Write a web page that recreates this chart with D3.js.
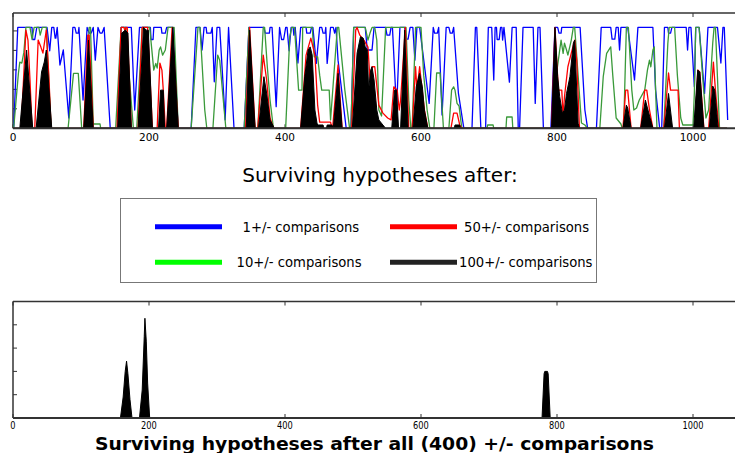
<!DOCTYPE html>
<html><head><meta charset="utf-8">
<script src="https://cdn.jsdelivr.net/npm/d3@7"></script>
<style>body{margin:0;background:#fff}svg{display:block}</style>
</head><body><svg id="c" width="735" height="453"></svg>
<script>
const xTicks=[0,200,400,600,800,1000];
const topYTicks=[1,2,3,4,5];
const botYTicks=[1,2,3,4];
const legendLabels=["1+/- comparisons","10+/- comparisons","50+/- comparisons","100+/- comparisons"];
const legendColors=["#0000ff","#00ff00","#ff0000","#222222"];
const titleTop="Surviving hypotheses after:";
const titleBottom="Surviving hypotheses after all (400) +/- comparisons";

// [hypothesis index, surviving count]
const blue=[[1,0],[7,5.18],[28,5.18],[29,4.56],[32,4.56],[35,5.18],[50,5.18],[54,3.98],[57,5.18],[60,5.18],[62,4.63],[63,4.63],[65,5.18],[69,3.25],[74,4.02],[82,0.53],[88,5.18],[91,5.18],[93,4.89],[96,4.89],[97,5.18],[103,1.45],[109,5.18],[112,4.89],[115,4.89],[118,5.18],[121,3.5],[125,5.18],[128,4.89],[131,4.89],[134,5.18],[143,0],[154,0],[159,5.18],[174,5.18],[179,0.94],[186,5.18],[202,5.18],[203,4.56],[206,4.56],[207,5.18],[218,5.18],[219,4.89],[224,4.89],[226,5.18],[235,5.18],[243,0],[262,0],[269,5.18],[275,5.18],[278,4.02],[281,5.18],[284,5.18],[285,4.89],[291,4.89],[293,5.18],[296,2.39],[300,5.18],[304,5.18],[312,0.43],[317,5.18],[325,0],[340,0],[347,5.18],[369,5.18],[371,4.89],[377,4.89],[378,5.18],[381,5.18],[387,1.11],[392,5.18],[395,4.56],[398,4.56],[401,5.18],[403,5.18],[406,3.98],[409,5.18],[412,5.18],[413,4.78],[415,5.18],[419,3.35],[423,5.18],[431,5.18],[432,4.89],[437,4.89],[439,5.18],[441,5.18],[446,3.33],[451,5.18],[454,5.18],[456,4.89],[459,4.89],[460,5.18],[462,3.33],[467,5.18],[471,5.18],[473,4.89],[475,5.18],[478,3.5],[490,0],[497,0],[501,5.18],[518,5.18],[521,4.02],[528,4.02],[531,5.18],[548,5.18],[550,4.78],[554,4.78],[556,5.18],[558,5.18],[564,0.94],[569,5.18],[576,5.18],[578,4.58],[581,4.58],[584,5.18],[588,5.18],[591,3.5],[594,5.18],[598,5.18],[612,1.28],[618,5.18],[620,4.89],[624,4.89],[626,5.18],[631,0.68],[637,5.18],[641,5.18],[643,4.89],[646,4.89],[648,5.18],[655,1.81],[663,0],[675,0],[680,5.18],[682,5.18],[688,0],[695,0],[699,5.18],[704,5.18],[707,2.48],[709,5.18],[711,5.18],[712,4.56],[715,4.56],[717,5.18],[719,5.18],[720,4.53],[722,5.18],[730,2.37],[734,5.18],[740,5.18],[743,0],[745,0],[750,5.18],[765,5.18],[768,1.28],[772,5.18],[775,5.18],[780,0],[791,0],[797,5.18],[801,5.18],[803,4.89],[806,4.89],[807,5.18],[834,5.18],[841,0.94],[845,0],[858,0],[865,5.18],[879,5.18],[881,4.58],[885,4.58],[887,5.18],[890,5.18],[892,4.02],[894,5.18],[904,5.18],[914,2.48],[919,5.18],[941,5.18],[945,1.96],[951,0],[954,0],[958,5.18],[963,5.18],[964,4.89],[967,4.89],[969,5.18],[990,5.18],[992,4.02],[994,5.18],[997,5.18],[1002,2.13],[1004,5.18],[1009,5.18],[1017,1.79],[1022,5.18],[1036,5.18],[1041,3.35],[1044,5.18],[1046,5.18],[1051,0.43]];

const green=[[0,0],[1,0],[8,2.84],[10,3.4],[13,3.35],[16,3.91],[19,5.18],[25,5.18],[28,4.56],[31,5.18],[38,5.18],[40,4.78],[43,5.18],[49,5.18],[56,0],[81,0],[89,2.82],[96,2.82],[101,0],[105,0],[112,5.18],[114,5.18],[118,0.22],[128,0.22],[129,0],[151,0],[159,5.18],[166,5.18],[171,2.65],[177,0],[182,0],[190,5.18],[201,5.18],[207,2.99],[210,3.33],[212,3.09],[215,4.02],[217,4.18],[220,3.76],[224,4.02],[228,5.18],[237,5.18],[243,0],[262,0],[272,5.18],[275,5.18],[282,0.94],[285,0],[294,0],[301,3.76],[304,3.5],[313,0],[340,0],[347,5.18],[353,0.94],[356,0],[360,0],[368,5.18],[370,5.18],[374,3.16],[378,1.45],[383,0],[401,0],[407,4.7],[410,5.18],[414,5.18],[420,1.96],[425,1.96],[426,5.18],[440,5.18],[443,3.67],[448,3.67],[451,2.73],[454,1.96],[465,1.96],[467,0.43],[477,5.18],[479,5.18],[488,1.96],[495,0],[497,0],[501,5.18],[518,5.18],[522,4.53],[525,4.89],[528,5.18],[532,5.18],[535,4.53],[538,0.94],[542,0.63],[548,5.18],[578,5.18],[582,1.45],[585,0],[587,0],[592,5.18],[600,5.18],[604,2.73],[609,0.94],[613,0],[619,0],[623,2.84],[628,2.84],[633,0],[641,0],[645,1.96],[648,2.13],[650,1.96],[653,1.28],[656,1.14],[660,0],[697,0],[698,0.17],[706,0.17],[707,0],[725,0],[726,0.58],[734,0.58],[735,0],[794,0],[799,2.73],[804,4.02],[806,4.53],[809,3.85],[811,4.37],[814,4.02],[816,3.76],[821,4.53],[824,5.18],[826,5.18],[831,2.73],[836,0.27],[841,0.17],[845,0],[863,0],[868,2.65],[873,3.85],[879,4.18],[882,2.73],[887,0.53],[894,0.22],[896,0],[898,0],[902,5.18],[905,5.18],[910,1.96],[913,0.94],[917,1.04],[921,1.45],[929,1.96],[933,2.99],[936,3.5],[938,3.16],[941,4.02],[943,4.18],[945,1.96],[947,0],[957,0],[963,4.37],[965,5.18],[973,5.18],[977,2.73],[982,0.53],[985,0.17],[1000,0.17],[1002,1.81],[1004,5.18],[1009,5.18],[1014,2.73],[1019,0.53],[1023,0.94],[1029,4.37],[1031,5.18],[1033,5.18],[1039,0],[1050,0]];

const red=[[0,0],[12,0],[19,5.04],[22,4.53],[25,2.48],[28,0],[32,0],[37,4.53],[41,4.17],[44,3.86],[49,5.04],[53,2.48],[56,0],[104,0],[110,4.78],[112,4.78],[118,0],[153,0],[159,5.18],[163,5.18],[165,4.99],[166,5.18],[168,5.18],[174,0],[184,0],[190,5.18],[198,5.18],[205,0],[212,0],[216,3.35],[219,2.99],[221,1.96],[224,0],[226,0],[234,5.18],[243,0],[342,0],[348,5.18],[356,0],[360,0],[368,3.76],[373,2.48],[378,0.53],[382,0.12],[384,0],[423,0],[431,3.76],[438,4.63],[444,3.76],[448,1.19],[451,0.32],[467,0.32],[469,0],[470,0],[478,3.25],[484,0],[498,0],[504,5.04],[506,5.18],[510,4.78],[516,4.53],[522,4.17],[525,2.48],[528,3.16],[532,3.16],[538,1.19],[544,0.78],[551,0.53],[556,0.43],[560,2.13],[565,1.96],[568,0.94],[570,1.45],[577,5.18],[582,0],[587,0],[592,3.16],[594,1.96],[598,3.16],[605,0.94],[610,0],[644,0],[648,0.78],[653,0.78],[657,0.17],[660,0],[792,0],[797,5.18],[802,1.96],[807,1.96],[809,0.59],[811,1.62],[816,3.16],[821,3.86],[826,4.53],[829,3.5],[833,0],[897,0],[901,1.96],[904,1.96],[909,0],[923,0],[929,1.96],[932,1.96],[936,0.94],[941,0],[957,0],[964,2.84],[967,1.96],[978,1.96],[980,0],[1003,0],[1007,2.99],[1010,2.89],[1016,0],[1023,0],[1030,3.4],[1033,1.96],[1038,0],[1050,0]];

const black=[[0,0],[10,0],[20,4.02],[29,0],[34,0],[42,2.89],[46,3.4],[49,4.02],[57,0],[104,0],[111,4.53],[118,0],[154,0],[160,4.89],[165,5.04],[169,4.89],[174,0],[184,0],[192,5.18],[196,5.04],[199,5.04],[205,0],[214,0],[217,1.96],[221,1.96],[223,0],[226,0],[235,5.18],[243,0],[343,0],[348,5.04],[356,0],[361,0],[369,2.65],[373,1.81],[378,0.43],[382,0.17],[384,0],[423,0],[429,2.65],[434,4.02],[437,4.18],[440,3.76],[444,0.94],[447,0.27],[448,0.17],[456,0.17],[457,0],[461,0],[462,0.17],[469,0.17],[471,0],[478,2.82],[484,0],[499,0],[506,3.86],[511,4.7],[515,4.63],[518,4.18],[521,4.02],[523,1.96],[526,2.99],[528,3.16],[531,2.48],[535,0.94],[538,0.43],[544,0.17],[548,0],[557,0],[561,1.96],[564,1.96],[567,0],[570,0],[576,5.04],[581,0],[588,0],[593,2.13],[598,2.82],[602,2.13],[605,0.94],[610,0],[649,0],[650,0.17],[657,0.17],[658,0],[792,0],[797,5.18],[801,2.65],[804,1.62],[808,0.77],[811,0.94],[814,1.79],[819,2.65],[824,4.36],[826,4.53],[831,0.26],[833,0],[897,0],[902,1.19],[904,1.04],[909,0],[923,0],[930,1.45],[933,1.04],[941,0],[958,0],[964,1.79],[970,0],[1001,0],[1007,2.99],[1010,2.89],[1016,0],[1024,0],[1029,2.17],[1032,1.96],[1037,0],[1050,0]];

const finalCounts=[[0,0],[158,0],[162,0.9],[165,2.0],[167,2.44],[169,1.9],[172,0.8],[175,0],[186,0],[190,1.2],[193,3.5],[194,4.28],[196,3.3],[198,1.5],[201,0],[778,0],[781,1.9],[782,2.0],[786,2.0],[787,1.9],[790,0],[1050,0]];

const svg=d3.select("#c");
const x=d3.scaleLinear().domain([0,1100]).range([13,761]);
const yT=d3.scaleLinear().domain([0,5.92]).range([128.3,13]);
const yB=d3.scaleLinear().domain([0,5]).range([418,301.5]);
const spine="#333";

function frame(y,top,bottom,yt){
  const g=svg.append("g");
  g.append("line").attr("x1",13).attr("x2",735).attr("y1",top).attr("y2",top).attr("stroke",spine).attr("stroke-width",1.5);
  g.append("line").attr("x1",13).attr("x2",13).attr("y1",top).attr("y2",bottom).attr("stroke",spine).attr("stroke-width",1.5);
  xTicks.forEach(t=>{
    g.append("line").attr("x1",x(t)).attr("x2",x(t)).attr("y1",bottom).attr("y2",bottom-4).attr("stroke",spine);
    g.append("line").attr("x1",x(t)).attr("x2",x(t)).attr("y1",top).attr("y2",top+4).attr("stroke",spine);
  });
  yt.forEach(t=>{
    g.append("line").attr("x1",13).attr("x2",17).attr("y1",y(t)).attr("y2",y(t)).attr("stroke",spine);
  });
  return g;
}

// top panel
frame(yT,13,128.3,topYTicks);
const lineT=d3.line().x(d=>x(d[0])).y(d=>yT(d[1]));
svg.append("path").attr("d",lineT(blue)).attr("fill","none").attr("stroke","#0000ff").attr("stroke-width",1.3).attr("stroke-linejoin","round");
svg.append("path").attr("d",lineT(green)).attr("fill","none").attr("stroke","#3a9a3a").attr("stroke-width",1.3).attr("stroke-linejoin","round");
svg.append("path").attr("d",lineT(red)).attr("fill","none").attr("stroke","#ff0000").attr("stroke-width",1.3).attr("stroke-linejoin","round");
const areaT=d3.area().x(d=>x(d[0])).y0(yT(0)).y1(d=>yT(d[1]));
svg.append("path").attr("d",areaT(black)).attr("fill","#000").attr("stroke","#000").attr("stroke-width",1);
svg.append("line").attr("x1",13).attr("x2",735).attr("y1",128.3).attr("y2",128.3).attr("stroke","#333").attr("stroke-width",2);
xTicks.forEach(t=>{
  svg.append("text").attr("x",x(t)).attr("y",141).attr("text-anchor","middle")
    .attr("font-family","DejaVu Sans").attr("font-size",10.5).attr("fill","#000").text(t);
});

// title + legend
svg.append("text").attr("x",380).attr("y",182).attr("text-anchor","middle")
  .attr("font-family","DejaVu Sans").attr("font-size",20).attr("fill","#000").text(titleTop);
svg.append("rect").attr("x",120.5).attr("y",198.5).attr("width",476).attr("height",84)
  .attr("fill","#fff").attr("stroke","#777").attr("stroke-width",1);
const legPos=[[155,222,226.7,242.5],[155,222,262.3,236.5],[390,457,226.7,464],[390,457,262.3,459]];
legendLabels.forEach((lab,i)=>{
  const p=legPos[i];
  svg.append("line").attr("x1",p[0]).attr("x2",p[1]).attr("y1",p[2]).attr("y2",p[2])
    .attr("stroke",legendColors[i]).attr("stroke-width",5);
  svg.append("text").attr("x",p[3]).attr("y",p[2]+4.8).attr("font-family","DejaVu Sans")
    .attr("font-size",13.2).attr("fill","#000").text(lab);
});

// bottom panel
frame(yB,301.5,418,botYTicks);
const areaB=d3.area().x(d=>x(d[0])).y0(yB(0)).y1(d=>yB(d[1]));
svg.append("path").attr("d",areaB(finalCounts)).attr("fill","#000").attr("stroke","#000").attr("stroke-width",1);
svg.append("line").attr("x1",13).attr("x2",735).attr("y1",418).attr("y2",418).attr("stroke","#333").attr("stroke-width",2);
xTicks.forEach(t=>{
  svg.append("text").attr("transform",`translate(${x(t)},429) scale(0.75,1)`).attr("text-anchor","middle")
    .attr("font-family","DejaVu Sans").attr("font-size",11).attr("fill","#000").text(t);
});
svg.append("text").attr("x",374.5).attr("y",449.5).attr("text-anchor","middle")
  .attr("font-family","DejaVu Sans").attr("font-weight","bold").attr("font-size",18)
  .attr("textLength",559).attr("lengthAdjust","spacingAndGlyphs").attr("fill","#000").text(titleBottom);
</script></body></html>
